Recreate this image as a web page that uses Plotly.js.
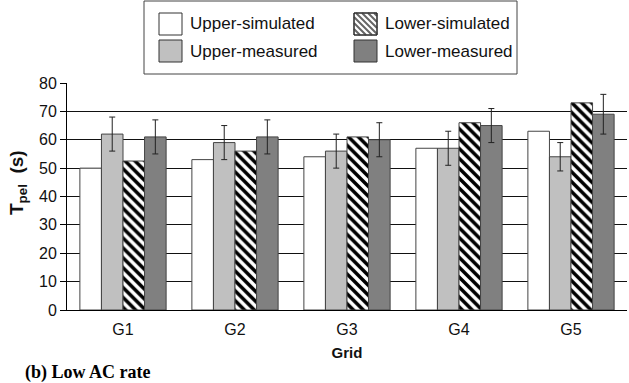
<!DOCTYPE html>
<html>
<head>
<meta charset="utf-8">
<script src="https://cdn.plot.ly/plotly-3.0.1.min.js"></script>
<style>html,body{margin:0;padding:0;background:#fff;}#chart{width:629px;height:383px;}</style>
</head>
<body>
<div id="chart"></div>
<script>
const categories = ["G1", "G2", "G3", "G4", "G5"];
const seriesNames = ["Upper-simulated", "Upper-measured", "Lower-simulated", "Lower-measured"];
const upperSimulated = [50, 53, 54, 57, 63];
const upperMeasured = [62, 59, 56, 57, 54];
const upperMeasuredErr = [6, 6, 6, 6, 5];
const lowerSimulated = [52.5, 56, 61, 66, 73];
const lowerMeasured = [61, 61, 60, 65, 69];
const lowerMeasuredErr = [6, 6, 6, 6, 7];
const yTicks = [0, 10, 20, 30, 40, 50, 60, 70, 80];

const FONT = '"Liberation Sans", Arial, Helvetica, sans-serif';
const outline = {color: "#444", width: 1};
const errStyle = {type: "data", visible: true, color: "#222", thickness: 1, width: 3};

const traces = [
  {type: "bar", name: seriesNames[0], x: categories, y: upperSimulated,
   marker: {color: "#ffffff", line: outline}},
  {type: "bar", name: seriesNames[1], x: categories, y: upperMeasured,
   error_y: Object.assign({array: upperMeasuredErr}, errStyle),
   marker: {color: "#c0c0c0", line: outline}},
  {type: "bar", name: seriesNames[2], x: categories, y: lowerSimulated,
   marker: {color: "#ffffff", line: outline,
            pattern: {shape: "\\", fgcolor: "#000", bgcolor: "#fff", size: 7, solidity: 0.5}}},
  {type: "bar", name: seriesNames[3], x: categories, y: lowerMeasured,
   error_y: Object.assign({array: lowerMeasuredErr}, errStyle),
   marker: {color: "#808080", line: outline}}
];

// plot area in pixels (for placing the hand-drawn legend)
const PL = 67, PR = 627, PT = 83, PB = 310;
const px = x => (x - PL) / (PR - PL);
const py = y => (PB - y) / (PB - PT);

const shapes = [];
const annotations = [];
// legend box
shapes.push({type: "rect", xref: "paper", yref: "paper", x0: px(144), x1: px(517), y0: py(1), y1: py(74),
             line: {color: "#444", width: 1}, fillcolor: "#fff"});
const swatches = [
  {x: 159, y: 13, fill: "#ffffff", striped: false, label: seriesNames[0]},
  {x: 159, y: 40, fill: "#c0c0c0", striped: false, label: seriesNames[1]},
  {x: 354, y: 13, fill: "#ffffff", striped: true, label: seriesNames[2]},
  {x: 354, y: 40, fill: "#808080", striped: false, label: seriesNames[3]}
];
const SW = 23, SH = 22;
swatches.forEach(s => {
  shapes.push({type: "rect", xref: "paper", yref: "paper", x0: px(s.x), x1: px(s.x + SW),
               y0: py(s.y + SH), y1: py(s.y), line: {color: "#333", width: 1}, fillcolor: s.fill});
  if (s.striped) {
    let path = "";
    for (let d = -SH; d < SW; d += 6) {
      const t0 = Math.max(0, -d), t1 = Math.min(SH, SW - d);
      if (t1 <= t0) continue;
      path += `M${px(s.x + d + t0)},${py(s.y + t0)} L${px(s.x + d + t1)},${py(s.y + t1)} `;
    }
    shapes.push({type: "path", xref: "paper", yref: "paper", path: path,
                 line: {color: "#666", width: 2}});
    shapes.push({type: "rect", xref: "paper", yref: "paper", x0: px(s.x), x1: px(s.x + SW),
                 y0: py(s.y + SH), y1: py(s.y), line: {color: "#222", width: 1}});
  }
  annotations.push({text: s.label, xref: "paper", yref: "paper", x: px(s.x + 29), y: py(s.y + 11),
                    xanchor: "left", yanchor: "middle", showarrow: false,
                    font: {family: FONT, size: 17, color: "#111"}});
});

// y-axis title
annotations.push({text: "<b>T<sub>pel</sub>  (s)</b>", xref: "paper", yref: "paper", x: px(18), y: py(183),
                  xanchor: "center", yanchor: "middle", textangle: -90, showarrow: false,
                  font: {family: FONT, size: 19, color: "#111"}});

annotations.push({text: "<b>(b) Low AC rate</b>", xref: "paper", yref: "paper", x: px(23), y: py(372),
                  xanchor: "left", yanchor: "middle", showarrow: false,
                  font: {family: '"Liberation Serif", "Times New Roman", serif', size: 18, color: "#000"}});

const layout = {
  width: 629, height: 383,
  margin: {l: PL, r: 629 - PR, t: PT, b: 383 - PB},
  paper_bgcolor: "#fff", plot_bgcolor: "#fff",
  barmode: "group", bargap: 0.23, bargroupgap: 0,
  font: {family: FONT, size: 16, color: "#111"},
  showlegend: false,
  xaxis: {type: "category", showline: true, linecolor: "#000", linewidth: 1,
          ticks: "", ticklabelstandoff: 5, showgrid: false, tickfont: {size: 16},
          title: {text: "<b>Grid</b>", font: {size: 15}, standoff: 10}},
  yaxis: {range: [0, 80], tickvals: yTicks, showline: true, linecolor: "#000", linewidth: 1,
          ticks: "outside", ticklen: 6, tickcolor: "#000", showgrid: true,
          gridcolor: "#111", gridwidth: 1, zeroline: false, tickfont: {size: 16}},
  shapes: shapes,
  annotations: annotations
};

Plotly.newPlot("chart", traces, layout, {displayModeBar: false, staticPlot: true});
</script>
</body>
</html>
